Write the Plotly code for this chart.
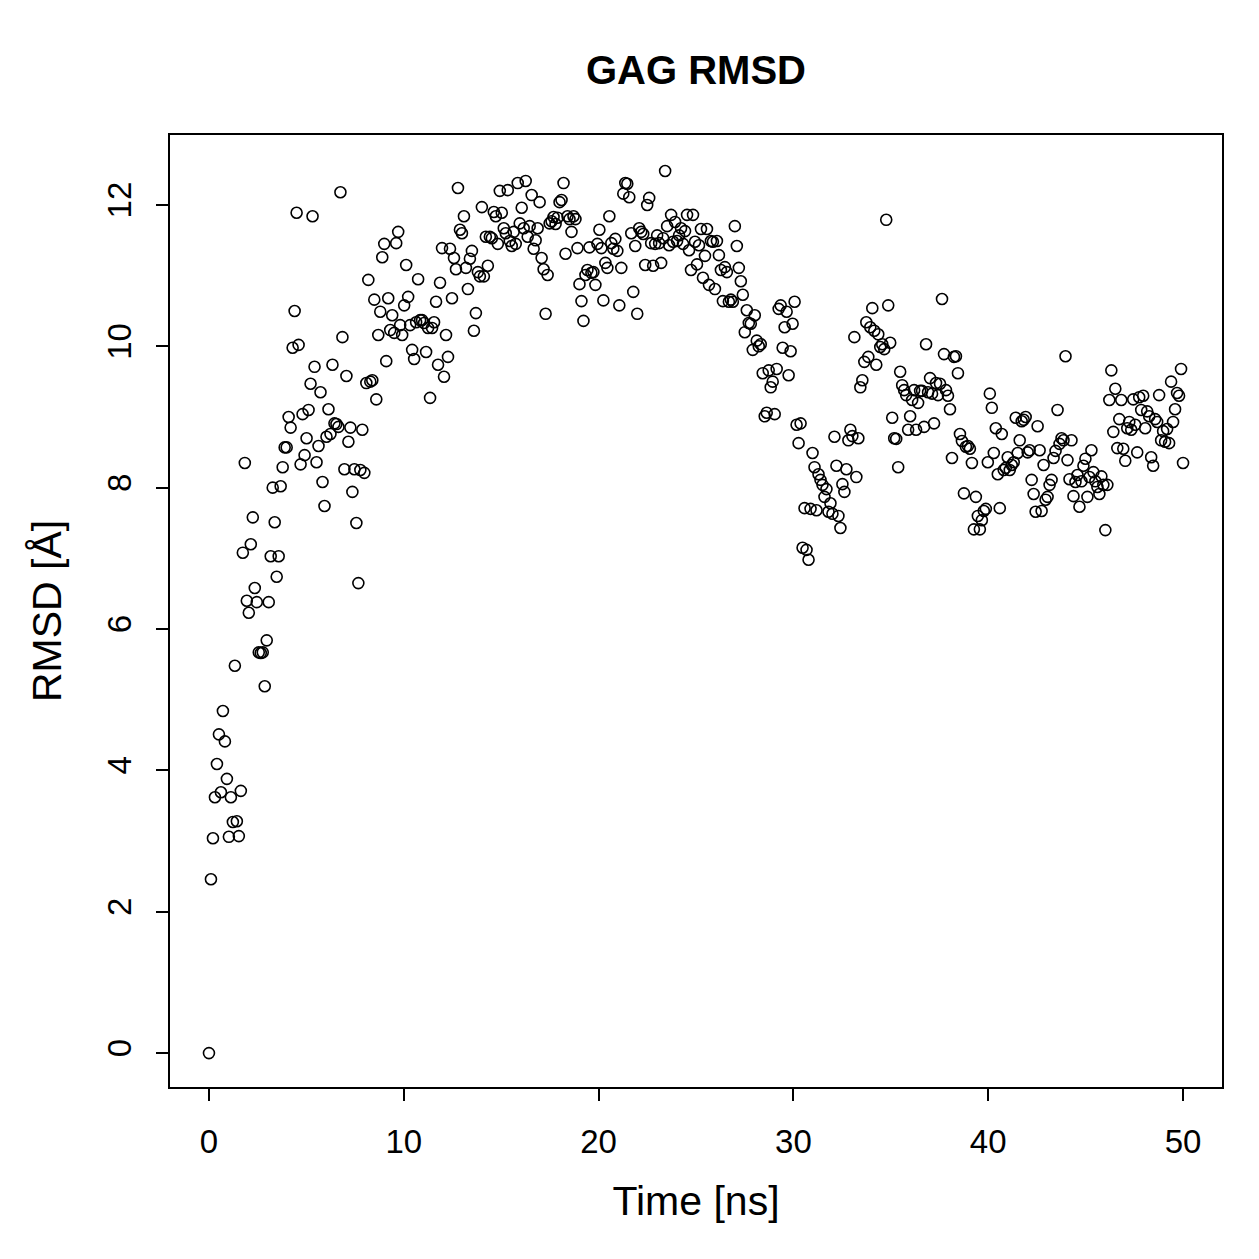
import numpy as np
import plotly.graph_objects as go

rmsd_a = [0, 2.46, 3.04, 3.62, 4.09, 4.51, 3.69, 4.84, 4.41, 3.88, 3.06, 3.62, 3.27, 5.48, 3.28, 3.07,
          3.71, 7.08, 8.35, 6.40, 6.23, 7.20, 7.58, 6.58, 6.38, 5.67, 5.66, 5.67, 5.19, 5.84, 6.38, 7.03,
          8.0, 7.51, 6.74, 7.03, 8.02, 8.29, 8.57, 8.57, 9.0, 8.85, 9.98, 10.5, 11.89, 10.02, 8.33, 9.04,
          8.46, 8.70, 9.10, 9.47, 11.84, 9.71, 8.36, 8.59, 9.35, 8.08, 7.74, 8.72, 9.11, 8.76, 9.74, 8.91,
          8.90, 8.86, 12.18, 10.13, 8.26, 9.58, 8.65, 8.85, 7.94, 8.26, 7.50, 6.65, 8.25, 8.82, 8.21, 9.48,
          10.94, 9.50, 9.52, 10.66, 9.25, 10.16, 10.49, 11.26, 11.45, 9.79, 10.68, 10.23, 10.44, 10.19,
          11.46, 11.62, 10.30, 10.16, 10.58, 11.15]
rmsd_b = [10.70, 10.30, 9.95, 9.82, 10.34, 10.95, 10.37, 10.37, 10.33, 9.92, 10.26, 9.27, 10.26, 10.34,
          10.63, 9.74, 10.90, 11.39, 9.57, 10.16, 9.85, 11.38, 10.68, 11.25, 11.09, 12.24, 11.65, 11.60,
          11.84, 11.11, 10.81, 11.24, 11.35, 10.22, 10.47, 11.05, 10.99, 11.97, 10.99, 11.55, 11.14, 11.55,
          11.53, 11.90, 11.84, 11.45, 12.20, 11.89, 11.67, 11.60, 12.21, 11.49, 11.42, 11.62, 11.45, 12.31,
          11.74, 11.96, 11.67, 12.34, 11.55, 11.70, 12.14, 11.38, 11.50, 11.67, 12.04, 11.25, 11.09, 10.46,
          11.01, 11.74, 11.77, 11.83, 11.73, 11.82, 12.04, 12.07, 12.31, 11.31, 11.84, 11.80, 11.62, 11.84,
          11.80, 11.39, 10.88, 10.64, 10.36, 11.01, 11.08, 11.40, 11.04, 11.05, 10.87, 11.45, 11.65, 11.39,
          10.65, 11.18]
rmsd_c = [11.11, 11.84, 11.46, 11.38, 11.52, 11.35, 10.58, 11.11, 12.16, 12.31, 12.30, 12.11, 11.60,
          10.77, 11.42, 10.46, 11.67, 11.62, 11.59, 11.15, 12.0, 12.10, 11.46, 11.14, 11.45, 11.57, 11.46,
          11.18, 11.53, 12.48, 11.70, 11.43, 11.86, 11.48, 11.76, 11.49, 11.57, 11.67, 11.45, 11.63, 11.86,
          11.36, 11.08, 11.86, 11.48, 11.16, 11.43, 11.66, 10.97, 11.28, 11.66, 10.87, 11.49, 11.48, 10.81,
          11.49, 11.29, 11.08, 10.64, 11.12, 11.05, 10.63, 10.66, 10.63, 11.70, 11.42, 11.11, 10.92, 10.73,
          10.20, 10.51, 10.33, 10.32, 9.95, 10.44, 10.08, 10.0, 10.03, 9.62, 9.01, 9.06, 9.66, 9.42, 9.50,
          9.04, 9.68, 10.53, 10.58, 9.98, 10.27, 10.49, 9.59, 9.93, 10.32, 10.63, 8.89, 8.63, 8.91, 7.15,
          7.71]
rmsd_d = [7.12, 6.98, 7.70, 8.49, 8.29, 7.68, 8.19, 8.11, 8.04, 7.87, 7.98, 7.66, 7.78, 7.63, 8.72, 8.31,
          7.60, 7.43, 8.05, 7.94, 8.26, 8.67, 8.82, 8.73, 10.13, 8.15, 8.70, 9.42, 9.52, 9.78, 10.34, 9.85,
          10.27, 10.54, 10.22, 9.74, 10.17, 9.99, 10.03, 9.96, 11.79, 10.58, 10.05, 8.99, 8.70, 8.69, 8.29,
          9.64, 9.45, 9.38, 9.31, 8.82, 9.01, 9.24, 9.38, 8.82, 9.20, 9.37, 9.37, 8.86, 10.03, 9.35, 9.55,
          9.33, 8.91, 9.48, 9.31, 9.47, 10.67, 9.89, 9.38, 9.30, 9.11, 8.42, 9.85, 9.86, 9.62, 8.76, 8.66,
          7.92, 8.58, 8.59, 8.55, 8.35, 7.41, 7.87, 7.60, 7.41, 7.54, 7.67, 7.70, 8.36, 9.33, 9.13, 8.49,
          8.84, 8.19, 7.71, 8.76, 8.25]
rmsd_e = [8.28, 8.43, 8.25, 8.32, 8.36, 8.99, 8.49, 8.67, 8.94, 8.96, 9.00, 8.50, 8.53, 8.11, 7.91, 7.66,
          8.87, 8.53, 7.67, 8.32, 7.83, 7.87, 8.04, 8.11, 8.42, 8.52, 9.10, 8.62, 8.70, 8.67, 9.86, 8.39,
          8.12, 8.67, 7.88, 8.08, 8.18, 7.73, 8.09, 8.31, 8.41, 7.87, 8.15, 8.53, 8.22, 8.09, 8.01, 7.91,
          8.16, 8.04, 7.40, 8.04, 9.24, 9.66, 8.79, 9.40, 8.56, 8.97, 9.24, 8.55, 8.38, 8.84, 8.93, 8.82,
          9.25, 8.89, 8.50, 9.28, 9.10, 9.30, 8.84, 9.08, 9.01, 8.43, 8.31, 8.97, 8.93, 9.31, 8.67, 8.80,
          8.65, 8.83, 8.63, 9.50, 8.93, 9.11, 9.34, 9.30, 9.68, 8.35]

rmsd = rmsd_a + rmsd_b + rmsd_c + rmsd_d + rmsd_e
time_ns = np.linspace(0, 50, len(rmsd))

x_ticks = [0, 10, 20, 30, 40, 50]
y_ticks = [0, 2, 4, 6, 8, 10, 12]

FONT = "Liberation Sans, Arial, Helvetica, sans-serif"

fig = go.Figure()
fig.add_trace(go.Scatter(
    x=time_ns, y=rmsd, mode="markers",
    marker=dict(symbol="circle-open", size=11, color="black", line=dict(width=1.6, color="black")),
    showlegend=False,
))

axis_common = dict(
    showgrid=False, zeroline=False, showline=True, linecolor="black", linewidth=2,
    mirror=True, ticks="outside", ticklen=12, tickwidth=2, tickcolor="black",
    ticklabelstandoff=12,
    tickfont=dict(family=FONT, size=33, color="black"),
)

fig.update_layout(
    width=1259, height=1259,
    margin=dict(l=170, r=37, t=135, b=172),
    paper_bgcolor="white", plot_bgcolor="white",
    title=dict(text="<b>GAG RMSD</b>", x=(170 + 1222) / 2 / 1259, xanchor="center",
               y=1 - 70 / 1259, yanchor="middle",
               font=dict(family=FONT, size=40, color="black")),
    xaxis=dict(range=[-2, 52], tickvals=x_ticks, ticktext=[str(v) for v in x_ticks],
               title=dict(text="Time [ns]", font=dict(family=FONT, size=41, color="black"), standoff=28),
               **axis_common),
    yaxis=dict(range=[-0.48, 12.99], tickvals=y_ticks, ticktext=[str(v) for v in y_ticks],
               tickangle=-90,
               title=dict(text="RMSD [Å]", font=dict(family=FONT, size=41, color="black"), standoff=26),
               **axis_common),
)

fig.write_html("out.html")
